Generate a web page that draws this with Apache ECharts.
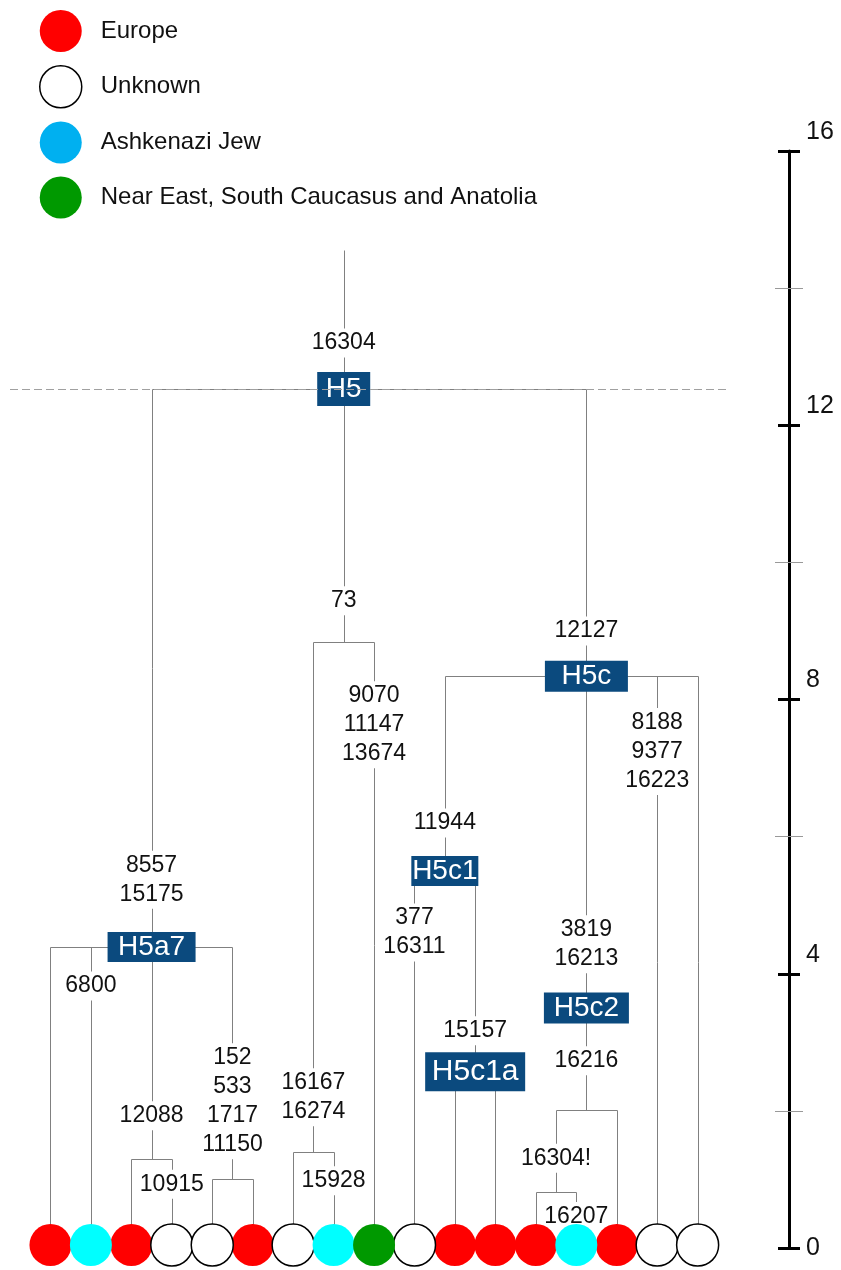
<!DOCTYPE html>
<html>
<head>
<meta charset="utf-8">
<script src="https://cdn.jsdelivr.net/npm/echarts@6/dist/echarts.min.js"></script>
<style>
  html, body { margin: 0; padding: 0; background: #fff; }
  #chart { width: 841px; height: 1270px; }
</style>
</head>
<body>
<div id="chart"></div>
<script>
// regions (legend)
const regions = ['Europe', 'Unknown', 'Ashkenazi Jew', 'Near East, South Caucasus and Anatolia']

// leaves from left to right: region index and parent node
const leafRegion = [0, 2, 0, 1, 1, 0, 1, 2, 3, 1, 0, 0, 0, 2, 0, 1, 1]
const leafParent = ['H5a7', 'H5a7', 'n12088', 'n12088', 'n152', 'n152', 'n16167', 'n16167', 'n73',
  'H5c1', 'H5c1a', 'H5c1a', 'n16304', 'n16304', 'n16216', 'H5c', 'H5c']

// internal nodes, age in thousand years
const nodeIds = ['H5', 'H5a7', 'n12088', 'n152', 'n73', 'n16167', 'H5c', 'H5c1', 'H5c1a', 'H5c2', 'n16216', 'n16304']
const nodeParent = [null, 'H5', 'H5a7', 'H5a7', 'H5', 'n73', 'H5', 'H5c', 'H5c1', 'H5c', 'H5c2', 'n16216']
const nodeAge = [12.53, 4.39, 1.30, 1.01, 8.84, 1.40, 8.34, 5.5, 2.57, 3.5, 2.01, 0.82]
// multi-child nodes sit above this child
const trunkChild = { H5: 'n73', H5a7: 'n12088', H5c: 'H5c2' }
const rootStemTop = 14.56

// named haplogroups
const boxNodes = ['H5', 'H5a7', 'H5c', 'H5c1', 'H5c1a', 'H5c2']

// mutations on branches (branch = child node)
const mutBranch = ['H5', 'H5a7', 'L1', 'n12088', 'L3', 'n152', 'n73', 'n16167', 'L7', 'L8',
  'H5c', 'H5c1', 'L9', 'H5c1a', 'H5c2', 'n16216', 'n16304', 'L13', 'L15']
const mutText = ['16304', '8557\n15175', '6800', '12088', '10915', '152\n533\n1717\n11150', '73',
  '16167\n16274', '15928', '9070\n11147\n13674', '12127', '11944', '377\n16311', '15157',
  '3819\n16213', '16216', '16304!', '16207', '8188\n9377\n16223']
const mutAge = [13.2, 5.37, 3.82, 1.93, 0.93, 2.14, 9.44, 2.20, 0.98, 7.63,
  9.0, 6.2, 4.6, 3.17, 4.43, 2.73, 1.31, 0.46, 7.24]

// time axis
const ageMin = 0
const ageMax = 16
const ageStep = 4

// styles
const fontFamily = '"Liberation Sans", Arial, sans-serif'
const regionColor = ['#ff0000', '#ffffff', '#00ffff', '#009900']
const legendColor = ['#ff0000', '#ffffff', '#00b0f0', '#009900']
const boxColor = '#0b4a7e'
const boxSize = { H5: [53, 34], H5a7: [88, 30], H5c: [83, 31], H5c1: [67, 30], H5c1a: [100, 39], H5c2: [85, 31] }

// build tree geometry
const pos = {}
const age = {}
const parentOf = {}
leafParent.forEach((p, i) => {
  pos['L' + i] = i
  age['L' + i] = 0
  parentOf['L' + i] = p
})
nodeIds.forEach((id, i) => {
  age[id] = nodeAge[i]
  parentOf[id] = nodeParent[i]
})
const children = {}
Object.keys(parentOf).forEach(c => {
  const p = parentOf[c]
  if (p) (children[p] = children[p] || []).push(c)
})
function xOf(id) {
  if (pos[id] !== undefined) return pos[id]
  const kids = children[id]
  pos[id] = trunkChild[id] ? xOf(trunkChild[id]) : kids.reduce((s, k) => s + xOf(k), 0) / kids.length
  return pos[id]
}
nodeIds.forEach(xOf)

const segments = []
nodeIds.forEach(id => {
  const xs = children[id].map(xOf)
  segments.push([Math.min(...xs), age[id], Math.max(...xs), age[id]])
  children[id].forEach(k => segments.push([pos[k], age[k], pos[k], age[id]]))
})
segments.push([pos.H5, age.H5, pos.H5, rootStemTop])

const chart = echarts.init(document.getElementById('chart'))

const leafSeries = regions.map((name, r) => ({
  name: name,
  type: 'scatter',
  z: 3,
  symbol: 'circle',
  symbolSize: 42,
  symbolOffset: [0, -3],
  itemStyle: r === 1
    ? { color: '#ffffff', borderColor: '#000', borderWidth: 1.5, opacity: 1 }
    : { color: regionColor[r], opacity: 1 },
  data: leafRegion.map((reg, i) => reg === r ? [i, 0] : null).filter(d => d)
}))

const tickStyle = { show: true, length: 11, lineStyle: { color: '#000', width: 3 } }
const minorStyle = { show: true, splitNumber: 2, length: 14, lineStyle: { color: '#999', width: 1 } }

const option = {
  animation: false,
  legend: {
    orient: 'vertical',
    left: 39,
    top: 10,
    padding: 0,
    itemWidth: 42,
    itemHeight: 42,
    itemGap: 13,
    icon: 'circle',
    selectedMode: false,
    textStyle: { fontSize: 24, color: '#111', fontFamily: fontFamily, padding: [0, 0, 0, 14] },
    data: regions.map((name, r) => ({
      name: name,
      itemStyle: r === 1
        ? { color: '#ffffff', borderColor: '#000', borderWidth: 1.5 }
        : { color: legendColor[r], borderWidth: 0 }
    }))
  },
  grid: [
    { left: 10, right: 111, top: 151, bottom: 22 },
    { left: 700, right: 52, top: 151, bottom: 22 }
  ],
  xAxis: [
    { type: 'value', min: -1, max: 16.8, show: false, gridIndex: 0 },
    { type: 'value', min: 0, max: 1, show: false, gridIndex: 1 }
  ],
  yAxis: [
    {
      type: 'value', gridIndex: 0, min: ageMin, max: ageMax, interval: ageStep,
      position: 'right', offset: 59,
      axisLine: { show: true, onZero: false, lineStyle: { color: '#000', width: 3 } },
      axisTick: Object.assign({ inside: false }, tickStyle),
      minorTick: minorStyle,
      splitLine: { show: false },
      axisLabel: {
        margin: 17, fontSize: 25, color: '#111', fontFamily: fontFamily,
        verticalAlign: 'bottom', lineHeight: 38,
        formatter: v => v === ageMin ? '' : String(v)
      }
    },
    {
      type: 'value', gridIndex: 1, min: ageMin, max: ageMax, interval: ageStep,
      position: 'right',
      axisLine: { show: false, onZero: false },
      axisTick: Object.assign({ inside: true }, tickStyle),
      minorTick: minorStyle,
      splitLine: { show: false },
      axisLabel: {
        margin: 17, fontSize: 25, color: '#111', fontFamily: fontFamily,
        formatter: v => v === ageMin ? String(v) : ''
      }
    }
  ],
  series: [
    {
      type: 'custom',
      name: 'tree',
      renderItem: (params, api) => {
        const a = api.coord([api.value(0), api.value(1)])
        const b = api.coord([api.value(2), api.value(3)])
        return {
          type: 'line',
          shape: { x1: Math.round(a[0]) + 0.5, y1: Math.round(a[1]) + 0.5, x2: Math.round(b[0]) + 0.5, y2: Math.round(b[1]) + 0.5 },
          style: { stroke: '#808080', lineWidth: 1 }
        }
      },
      encode: { x: [0, 2], y: [1, 3] },
      data: segments,
      markLine: {
        silent: true,
        symbol: 'none',
        label: { show: false },
        lineStyle: { color: '#a0a0a0', type: [8, 4], width: 1 },
        data: [{ yAxis: age.H5 }]
      }
    },
    {
      type: 'scatter',
      name: 'mutations',
      symbolSize: 1,
      itemStyle: { color: 'rgba(0,0,0,0)', opacity: 1 },
      label: {
        show: true,
        position: 'inside',
        formatter: '{b}',
        color: '#111',
        fontSize: 23,
        lineHeight: 29,
        fontFamily: fontFamily,
        backgroundColor: '#fff',
        padding: [0, 2]
      },
      data: mutBranch.map((b, i) => ({ name: mutText[i], value: [pos[b], mutAge[i]] }))
    },
    ...leafSeries,
    {
      type: 'scatter',
      name: 'haplogroups',
      z: 4,
      symbolSize: 1,
      itemStyle: { color: 'rgba(0,0,0,0)', opacity: 1 },
      label: {
        show: true,
        position: 'inside',
        formatter: '{b}',
        color: '#fff',
        fontFamily: fontFamily,
        backgroundColor: boxColor,
        align: 'center',
        verticalAlign: 'middle'
      },
      data: boxNodes.map(id => ({
        name: id,
        value: [pos[id], age[id]],
        label: {
          width: boxSize[id][0],
          height: boxSize[id][1],
          lineHeight: boxSize[id][1],
          fontSize: id === 'H5c1a' ? 30 : 28
        }
      }))
    }
  ]
}

chart.setOption(option)
</script>
</body>
</html>
